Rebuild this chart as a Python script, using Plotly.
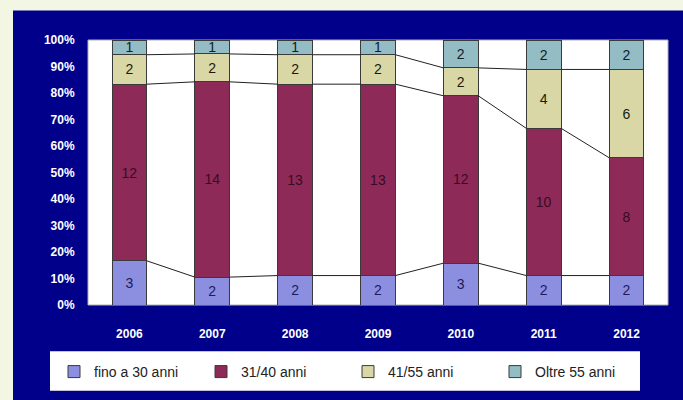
import plotly.graph_objects as go

years = ["2006", "2007", "2008", "2009", "2010", "2011", "2012"]
series_names = ["fino a 30 anni", "31/40 anni", "41/55 anni", "Oltre 55 anni"]
fino30 = [3, 2, 2, 2, 3, 2, 2]
a31_40 = [12, 14, 13, 13, 12, 10, 8]
a41_55 = [2, 2, 2, 2, 2, 4, 6]
oltre55 = [1, 1, 1, 1, 2, 2, 2]
yticks = [0, 10, 20, 30, 40, 50, 60, 70, 80, 90, 100]

series = [fino30, a31_40, a41_55, oltre55]
colors = ["#8c8ee0", "#8e2a58", "#d9d7a6", "#93bcc4"]
text_colors = ["#1c1c5a", "#3a0a22", "#1a1a10", "#10202a"]

BAR_W = 0.42
xs = list(range(len(years)))
totals = [sum(s[i] for s in series) for i in xs]

fig = go.Figure()
for name, vals, col, tcol in zip(series_names, series, colors, text_colors):
    fig.add_trace(go.Bar(
        x=xs, y=vals, name=name, width=BAR_W,
        marker=dict(color=col, line=dict(color="#3a3a3a", width=1)),
        text=vals, textposition="inside", insidetextanchor="middle",
        textangle=0, constraintext="none",
        textfont=dict(family="Liberation Sans, Arial", size=14, color=tcol),
        texttemplate="%{text}", hoverinfo="skip",
    ))

# series lines between bars at cumulative boundaries
cum = [0] * len(xs)
for vals in series[:-1]:
    cum = [c + v for c, v in zip(cum, vals)]
    pct = [100.0 * c / t for c, t in zip(cum, totals)]
    lx, ly = [], []
    for i in range(len(xs) - 1):
        lx += [xs[i] + BAR_W / 2, xs[i + 1] - BAR_W / 2, None]
        ly += [pct[i], pct[i + 1], None]
    fig.add_trace(go.Scatter(x=lx, y=ly, mode="lines", showlegend=False,
                             line=dict(color="#222222", width=1), hoverinfo="skip"))

W, H = 683, 400
L, R, T, B = 88, 15, 40, 91
pw, ph = W - L - R, H - T - B

def px_x(x):
    return (x - L) / pw

def px_y(y):
    return (H - B - y) / ph

shapes = [
    dict(type="rect", xref="paper", yref="paper", x0=px_x(-5), x1=px_x(13), y0=px_y(420), y1=px_y(-5),
         fillcolor="#f3f6e2", line=dict(width=0), layer="below"),
    dict(type="rect", xref="paper", yref="paper", x0=px_x(-5), x1=px_x(690), y0=px_y(10), y1=px_y(-5),
         fillcolor="#f3f6e2", line=dict(width=0), layer="below"),
    dict(type="rect", xref="paper", yref="paper", x0=px_x(50), x1=px_x(640), y0=px_y(396), y1=px_y(356),
         fillcolor="white", line=dict(width=0), layer="below"),
    dict(type="rect", xref="paper", yref="paper", x0=0, x1=1, y0=0, y1=1,
         fillcolor="rgba(0,0,0,0)", line=dict(color="#b0b0b0", width=1), layer="below"),
]

fig.update_layout(
    width=W, height=H,
    barmode="stack", barnorm="percent",
    paper_bgcolor="#00008a", plot_bgcolor="white",
    margin=dict(l=L, r=R, t=T, b=B),
    shapes=shapes,
    showlegend=True,
    legend=dict(orientation="h", x=px_x(54), y=px_y(377), xanchor="left", yanchor="middle",
                bgcolor="rgba(0,0,0,0)", entrywidth=102, entrywidthmode="pixels",
                itemwidth=30,
                font=dict(family="Liberation Sans, Arial", size=14, color="#222222"),
                traceorder="normal"),
    xaxis=dict(tickmode="array", tickvals=xs, ticktext=years, range=[-0.5, len(years) - 0.5],
               showgrid=False, zeroline=False, ticks="outside", ticklen=18, tickcolor="#00008a",
               tickfont=dict(family="Liberation Sans, Arial", size=12, color="white", weight="bold")),
    yaxis=dict(range=[0, 100], tickmode="array", tickvals=yticks,
               ticktext=[f"{v}%" for v in yticks], showgrid=False, zeroline=False,
               ticks="outside", ticklen=10, tickcolor="#00008a",
               tickfont=dict(family="Liberation Sans, Arial", size=12, color="white", weight="bold")),
)

fig.write_html("out.html", config={"displayModeBar": False},
               post_script="document.body.style.margin='0';document.body.style.padding='0';document.body.style.overflow='hidden';")
